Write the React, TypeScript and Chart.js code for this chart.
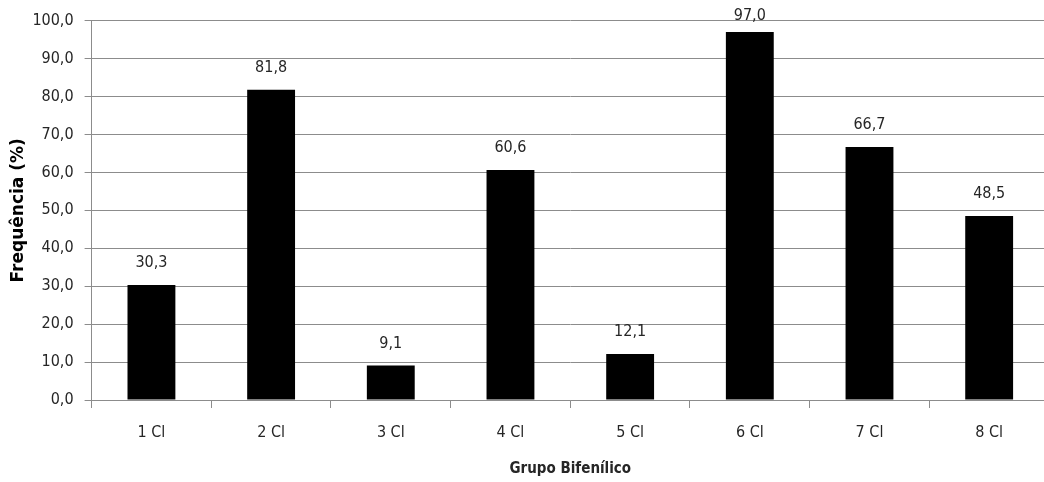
import React, { useEffect, useRef } from "react";
import { Chart, registerables } from "chart.js";

Chart.register(...registerables);

const categories = ["1 Cl", "2 Cl", "3 Cl", "4 Cl", "5 Cl", "6 Cl", "7 Cl", "8 Cl"];
const frequencies = [30.3, 81.8, 9.1, 60.6, 12.1, 97.0, 66.7, 48.5];
const yMin = 0;
const yMax = 100;
const yStep = 10;

const NARROW = "'DejaVu Sans Condensed', 'Liberation Sans Narrow', sans-serif";
const fmt = (v: number) => v.toFixed(1).replace(".", ",");

const valueLabels = {
  id: "valueLabels",
  afterDatasetsDraw(chart: any) {
    const { ctx } = chart;
    const meta = chart.getDatasetMeta(0);
    ctx.save();
    ctx.font = `16px ${NARROW}`;
    ctx.fillStyle = "#262626";
    ctx.textAlign = "center";
    ctx.textBaseline = "middle";
    meta.data.forEach((bar: any, i: number) => {
      const y = Math.max(bar.y - 22, 15.5);
      ctx.fillText(fmt(frequencies[i]), bar.x, y);
    });
    ctx.restore();
  },
};

export default function App() {
  const ref = useRef<HTMLCanvasElement>(null);
  useEffect(() => {
    if (!ref.current) return;
    const chart = new Chart(ref.current, {
      type: "bar",
      data: {
        labels: categories,
        datasets: [
          {
            data: frequencies,
            backgroundColor: "#000000",
            borderWidth: 0,
            barPercentage: 0.4,
            categoryPercentage: 1,
          },
        ],
      },
      options: {
        animation: false,
        responsive: false,
        maintainAspectRatio: false,
        layout: { padding: { top: 20, right: 3, bottom: 0, left: 0 } },
        plugins: { legend: { display: false }, tooltip: { enabled: false } },
        scales: {
          x: {
            offset: true,
            grid: {
              offset: true,
              drawOnChartArea: false,
              drawTicks: true,
              tickLength: 8,
              color: "#8c8c8c",
            },
            border: { color: "#8c8c8c" },
            ticks: { color: "#262626", font: { family: NARROW, size: 16 }, padding: 15 },
            title: {
              display: true,
              text: "Grupo Bifenílico",
              color: "#262626",
              font: { family: NARROW, size: 15, weight: "bold" },
              padding: { top: 0, bottom: 4 },
            },
            afterFit: (s: any) => {
              s.height = 82;
            },
          },
          y: {
            min: yMin,
            max: yMax,
            grid: { color: "#8c8c8c", tickLength: 7 },
            border: { color: "#8c8c8c" },
            ticks: {
              stepSize: yStep,
              color: "#262626",
              font: { family: NARROW, size: 16 },
              padding: 11,
              callback: (v: any) => fmt(Number(v)),
            },
            title: {
              display: true,
              text: "Frequência (%)",
              color: "#000000",
              font: { family: "'DejaVu Sans', sans-serif", size: 17, weight: "bold" },
              padding: { top: 8, bottom: 0 },
            },
            afterFit: (s: any) => {
              s.width = 91.6;
            },
          },
        },
      },
      plugins: [valueLabels],
    });
    return () => chart.destroy();
  }, []);
  return (
    <div style={{ position: "absolute", left: 0, top: 0, width: 1044, height: 482, overflow: "hidden", background: "#fff" }}>
      <canvas ref={ref} width={1052} height={482} style={{ display: "block" }} />
    </div>
  );
}
